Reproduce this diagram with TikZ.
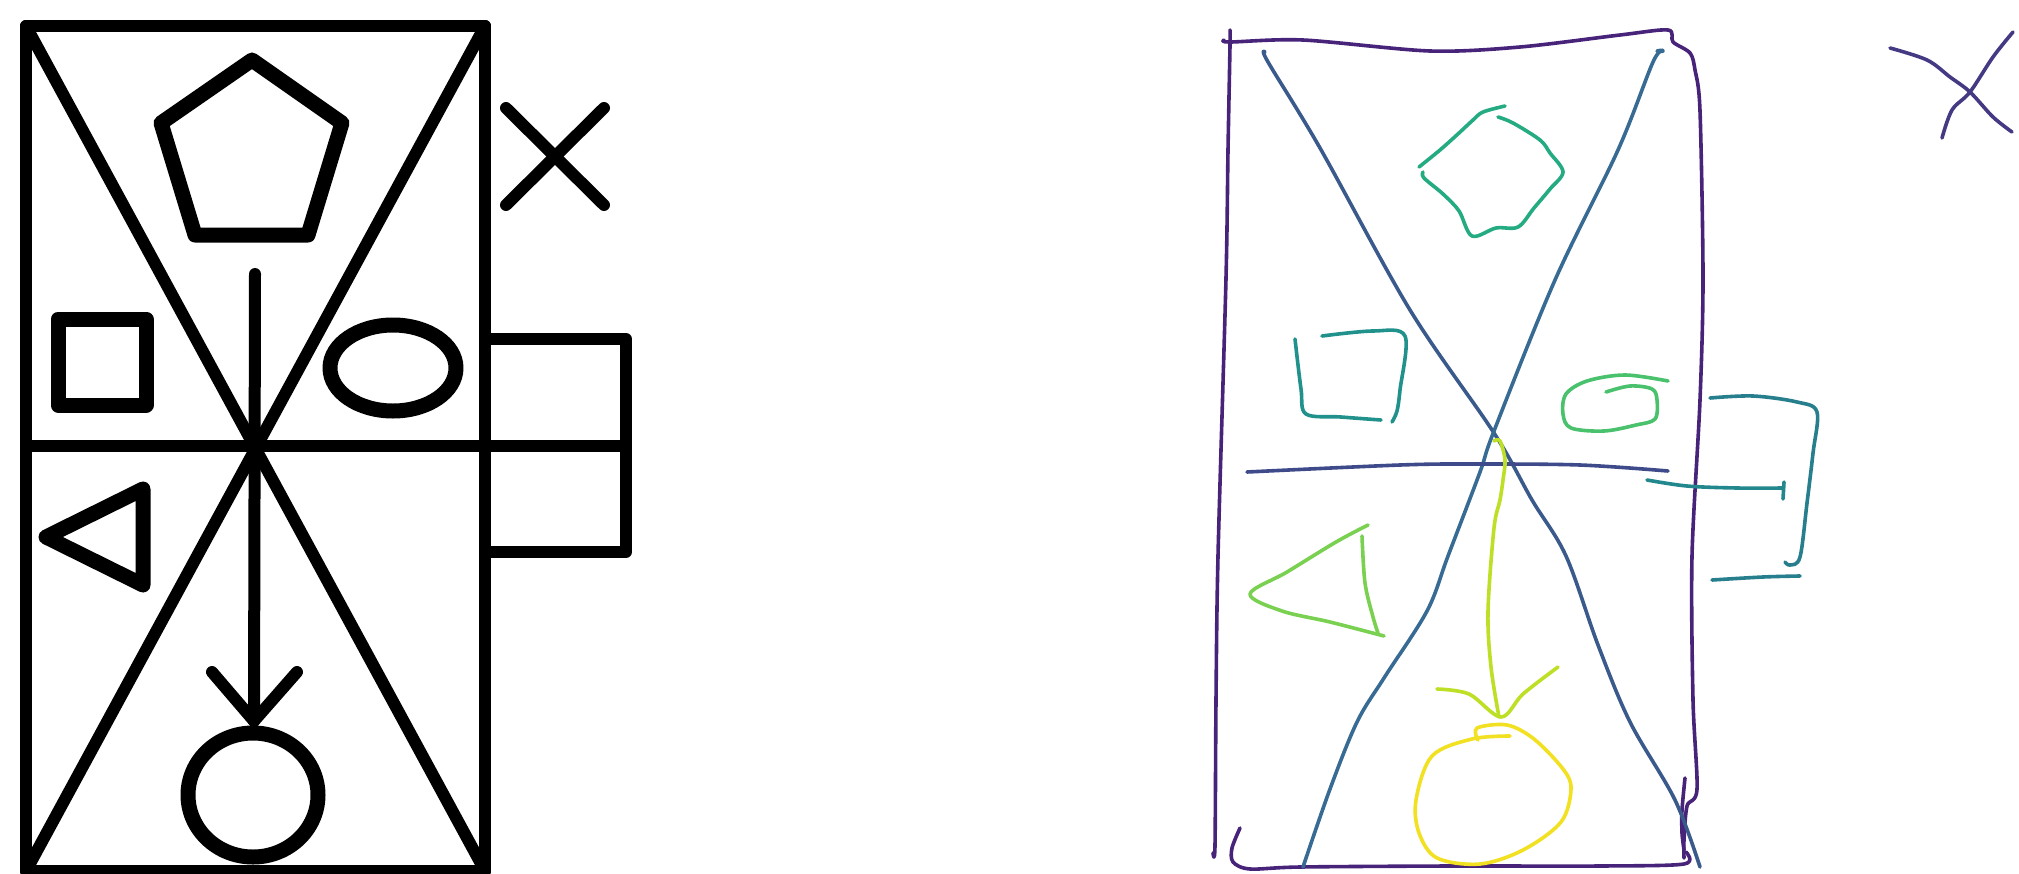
\documentclass[tikz,border=0pt]{standalone}
\begin{document}
\begin{tikzpicture}[x=1pt,y=-1pt,
  thick line/.style={line width=12pt,line cap=round,line join=round},
  shape line/.style={line width=15pt,line cap=round,line join=round},
  pen/.style={line width=3.6pt,line cap=round,line join=round},
  hand/.style={pen,smooth,tension=0.55}]
\definecolor{vpurple}{HTML}{48237A}
\definecolor{vdiagA}{HTML}{3B5A8C}
\definecolor{vdiagB}{HTML}{386B93}
\definecolor{vhoriz}{HTML}{3E4A89}
\definecolor{vx}{HTML}{443A83}
\definecolor{vbracket}{HTML}{277F8E}
\definecolor{vmid}{HTML}{23888D}
\definecolor{vsquare}{HTML}{21918C}
\definecolor{vpent}{HTML}{25AB82}
\definecolor{vspiral}{HTML}{4AC16D}
\definecolor{vtri}{HTML}{7AD151}
\definecolor{varrow}{HTML}{BDDF26}
\definecolor{vcircle}{HTML}{F2E122}
\useasboundingbox (0,0) rectangle (2019,873);
\fill[white] (0,0) rectangle (2019,873);

% ---------- left: clean drawing ----------
\coordinate (tl) at (26,26);
\coordinate (tr) at (485,26);
\coordinate (bl) at (26,871);
\coordinate (br) at (485,871);
\coordinate (ml) at (26,446);
\coordinate (mr) at (626,446);
\draw[thick line] (tl) rectangle (br);
\draw[thick line] (tl) -- (br);
\draw[thick line] (tr) -- (bl);
\draw[thick line,line cap=butt] (ml) -- (mr);
\draw[thick line] (485,339) -- (626,339) -- (626,552) -- (485,552);
\draw[thick line] (506,108) -- (604,205);
\draw[thick line] (604,108) -- (506,205);
\draw[shape line] (252,60) -- (342,123) -- (308,235) -- (195,235) -- (161,123) -- cycle;
\draw[shape line] (58,319) rectangle (146,405);
\draw[shape line] (393,368) ellipse [x radius=63, y radius=43];
\draw[shape line] (46,537) -- (143,489) -- (143,585) -- cycle;
\coordinate (astart) at (255,274);
\coordinate (atip) at (254,721);
\draw[thick line] (astart) -- (atip);
\draw[thick line] (212,672) -- (atip) -- (297,672);
\draw[shape line] (253,795) ellipse [x radius=65, y radius=62];

% ---------- right: hand sketch ----------
% frame
\draw[pen,vpurple] plot[smooth,tension=0.5] coordinates {(1224,40) (1230,42) (1303,40) (1430,51) (1520,47) (1620,35) (1668,30) (1673,42) (1690,53) (1695,70) (1700,111) (1703,278) (1700,400) (1692,556) (1693,700) (1697,789) (1687,806) (1684,840) (1684,858)};
\draw[pen,vpurple] plot[smooth,tension=0.5] coordinates {(1230,30) (1230,45) (1228,150) (1226,278) (1218,556) (1216,700) (1215,845) (1213,853)};
\draw[pen,vpurple] plot[smooth,tension=0.5] coordinates {(1240,828) (1232,848) (1233,862) (1250,869) (1300,867) (1450,866) (1600,866) (1684,864) (1686,852)};
\draw[pen,vpurple] plot[smooth,tension=0.5] coordinates {(1685,778) (1682,810) (1682,833) (1684,850)};
% diagonals
\draw[hand,vdiagA] plot coordinates {(1265,52) (1268,62) (1320,148) (1410,310) (1494,433) (1532,500) (1566,556) (1598,645) (1630,722) (1675,800) (1700,867)};
\draw[hand,vdiagB] plot coordinates {(1657,51) (1663,51) (1653,62) (1618,150) (1555,280) (1494,431) (1480,472) (1448,556) (1427,611) (1384,678) (1357,722) (1330,789) (1303,867)};
\draw[hand,vhoriz] plot coordinates {(1247,472) (1400,465) (1475,464) (1580,465) (1668,471)};
% pentagon-like blob
\draw[hand,vpent] plot coordinates {(1505,106) (1483,112) (1473,120) (1459,133) (1440,150) (1419,167)};
\draw[hand,vpent] plot coordinates {(1498,117) (1513,123) (1540,140) (1550,153) (1563,172) (1550,189) (1534,208) (1518,227) (1496,228) (1472,236) (1459,211) (1443,194) (1424,178) (1423,172)};
% square
\draw[hand,vsquare] plot coordinates {(1295,339) (1301,389) (1306,414) (1341,417) (1381,420)};
\draw[hand,vsquare] plot coordinates {(1322,336) (1373,331) (1405,336) (1400,390) (1397,411) (1392,422)};
% spiral
\draw[hand,vspiral] plot coordinates {(1668,381) (1625,375) (1587,381) (1566,394) (1563,414) (1571,428) (1604,431) (1636,425) (1655,419) (1657,400) (1652,389) (1630,386) (1606,392)};
% bracket
\draw[hand,vbracket] plot coordinates {(1710,398) (1753,396) (1797,402) (1817,412) (1813,453) (1807,503) (1800,557) (1790,565) (1785,562)};
\draw[hand,vmid] plot coordinates {(1647,480) (1687,486) (1737,488) (1783,488)};
\draw[pen,vmid] (1784,482) -- (1783,499);
\draw[hand,vbracket] plot coordinates {(1712,580) (1763,577) (1800,576)};
% triangle
\draw[hand,vtri] plot coordinates {(1368,525) (1336,542) (1287,572) (1250,594) (1282,611) (1330,622) (1384,636)};
\draw[hand,vtri] plot coordinates {(1362,536) (1365,583) (1373,617) (1378,633)};
% arrow
\draw[hand,varrow] plot coordinates {(1494,441) (1500,441) (1505,460) (1503,480) (1500,500) (1494,528) (1488,611) (1491,667) (1499,717)};
\draw[hand,varrow] plot coordinates {(1437,689) (1469,694) (1501,717) (1523,694) (1558,667)};
% circle
\draw[hand,vcircle] plot coordinates {(1478,740) (1477,728) (1507,725) (1534,739) (1563,769) (1571,789) (1561,822) (1523,850) (1480,864) (1437,858) (1419,833) (1416,800) (1432,756) (1472,739) (1510,736)};
% cross
\draw[hand,vx] plot coordinates {(1890,48) (1927,60) (1950,77) (1970,92) (1993,117) (2012,132)};
\draw[hand,vx] plot coordinates {(2013,32) (1993,57) (1970,92) (1952,110) (1942,138)};
\end{tikzpicture}
\end{document}
